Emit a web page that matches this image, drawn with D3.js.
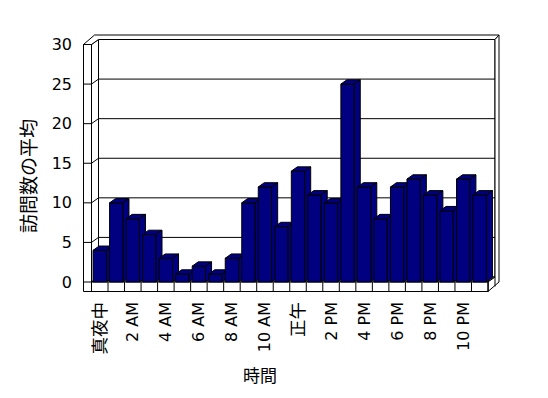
<!DOCTYPE html>
<html>
<head>
<meta charset="utf-8">
<script src="https://cdn.jsdelivr.net/npm/d3@7"></script>
<style>
  body { margin: 0; background: #fff; }
  svg text { font-family: "DejaVu Sans", "Noto Sans CJK JP", sans-serif; fill: #000; }
</style>
</head>
<body>
<svg id="chart" width="548" height="398"></svg>
<script>
// hours of the day (category axis)
const hours = ["真夜中", "1 AM", "2 AM", "3 AM", "4 AM", "5 AM", "6 AM", "7 AM", "8 AM", "9 AM", "10 AM", "11 AM",
  "正午", "1 PM", "2 PM", "3 PM", "4 PM", "5 PM", "6 PM", "7 PM", "8 PM", "9 PM", "10 PM", "11 PM"];
// average visits per hour
const visits = [4, 10, 8, 6, 3, 1, 2, 1, 3, 10, 12, 7, 14, 11, 10, 25, 12, 8, 12, 13, 11, 9, 13, 11];
const yTicks = [0, 5, 10, 15, 20, 25, 30];
const xTitle = "時間";
const yTitle = "訪問数の平均";

const svg = d3.select("#chart");

// front plane of the 3d box
const left = 83.5, inner = 91.5, right = 488, floorBot = 291.5;
// depth offsets: back wall inner face, back wall outer face, bar depth
const dX = 7, dY = -5;
const tX = 11, tY = -9.5;
const bX = 6, bY = -4.3;

const x = d3.scaleBand().domain(hours).range([inner, right]).paddingInner(0.19).paddingOuter(0.095);
const y = d3.scaleLinear().domain([0, 30]).range([282, 44.5]);

const step = x.step();
const yTop = y(30), base = y(0);

function poly(pts, fill) {
  return svg.append("polygon")
    .attr("points", pts.map(p => p.join(",")).join(" "))
    .attr("fill", fill || "#fff")
    .attr("stroke", "#000")
    .attr("stroke-width", 1)
    .attr("stroke-linejoin", "miter");
}
function line(x1, y1, x2, y2) {
  svg.append("line")
    .attr("x1", x1).attr("y1", y1).attr("x2", x2).attr("y2", y2)
    .attr("stroke", "#000").attr("stroke-width", 1);
}

// back wall face
poly([[inner + dX, yTop + dY], [right + dX, yTop + dY], [right + dX, base + dY], [inner + dX, base + dY]]);
// left wall inner face
poly([[inner, yTop], [inner + dX, yTop + dY], [inner + dX, base + dY], [inner, base]]);
// floor top
poly([[inner, base], [right, base], [right + dX, base + dY], [inner + dX, base + dY]]);
// top edge of walls
poly([[left, yTop], [inner, yTop], [inner + dX, yTop + dY], [right + dX, yTop + dY], [right + tX, yTop + tY], [left + tX, yTop + tY]]);
// right side of floor and back wall
poly([[right, base], [right, floorBot], [right + tX, floorBot + tY], [right + tX, yTop + tY], [right + dX, yTop + dY], [right + dX, base + dY]]);
line(right + dX, base + dY, right + dX, floorBot + dY);
// front face of left wall and floor
poly([[left, yTop], [inner, yTop], [inner, base], [right, base], [right, floorBot], [left, floorBot]]);

// gridlines
yTicks.filter(v => v > 0 && v < 30).forEach(v => {
  line(inner + dX, y(v) + dY, right + dX, y(v) + dY);
  line(inner, y(v), inner + dX, y(v) + dY);
});
yTicks.forEach(v => line(left, y(v), inner, y(v)));

// category ticks on floor front
d3.range(hours.length + 1).forEach(i => {
  const xx = inner + i * step;
  line(xx, base, xx, floorBot);
});

// bars
const bw = x.bandwidth();
const navy = "#000080";
hours.forEach((h, i) => {
  const x0 = x(h), x1 = x0 + bw, yt = y(visits[i]);
  poly([[x0, yt], [x1, yt], [x1, base], [x0, base]], navy);
  poly([[x0, yt], [x1, yt], [x1 + bX, yt + bY], [x0 + bX, yt + bY]], navy);
  poly([[x1, yt], [x1 + bX, yt + bY], [x1 + bX, base + bY], [x1, base]], navy);
});

// y axis labels
const yAxis = svg.append("g")
  .attr("transform", `translate(${left},0)`)
  .call(d3.axisLeft(y).tickValues(yTicks).tickSize(0).tickPadding(11.5));
yAxis.select(".domain").remove();
yAxis.attr("font-family", null).attr("font-size", null);
yAxis.selectAll("text").style("font-size", "16px");

// x axis labels, every second hour
const isCjk = d => /[^\x00-\x7f]/.test(d);
svg.append("g").selectAll("text")
  .data(hours.filter((d, i) => i % 2 === 0))
  .enter().append("text")
  .attr("transform", d => `translate(${x(d) + bw / 2},302) rotate(-90)`)
  .attr("text-anchor", "end")
  .attr("dominant-baseline", "central")
  .style("font-size", d => isCjk(d) ? "17.5px" : "16px")
  .text(d => d);

svg.append("text")
  .attr("x", 260).attr("y", 376)
  .attr("text-anchor", "middle")
  .attr("dominant-baseline", "central")
  .style("font-size", "17px")
  .text(xTitle);

svg.append("text")
  .attr("transform", "translate(29,176) rotate(-90)")
  .attr("text-anchor", "middle")
  .attr("dominant-baseline", "central")
  .style("font-size", "19px")
  .text(yTitle);
</script>
</body>
</html>
